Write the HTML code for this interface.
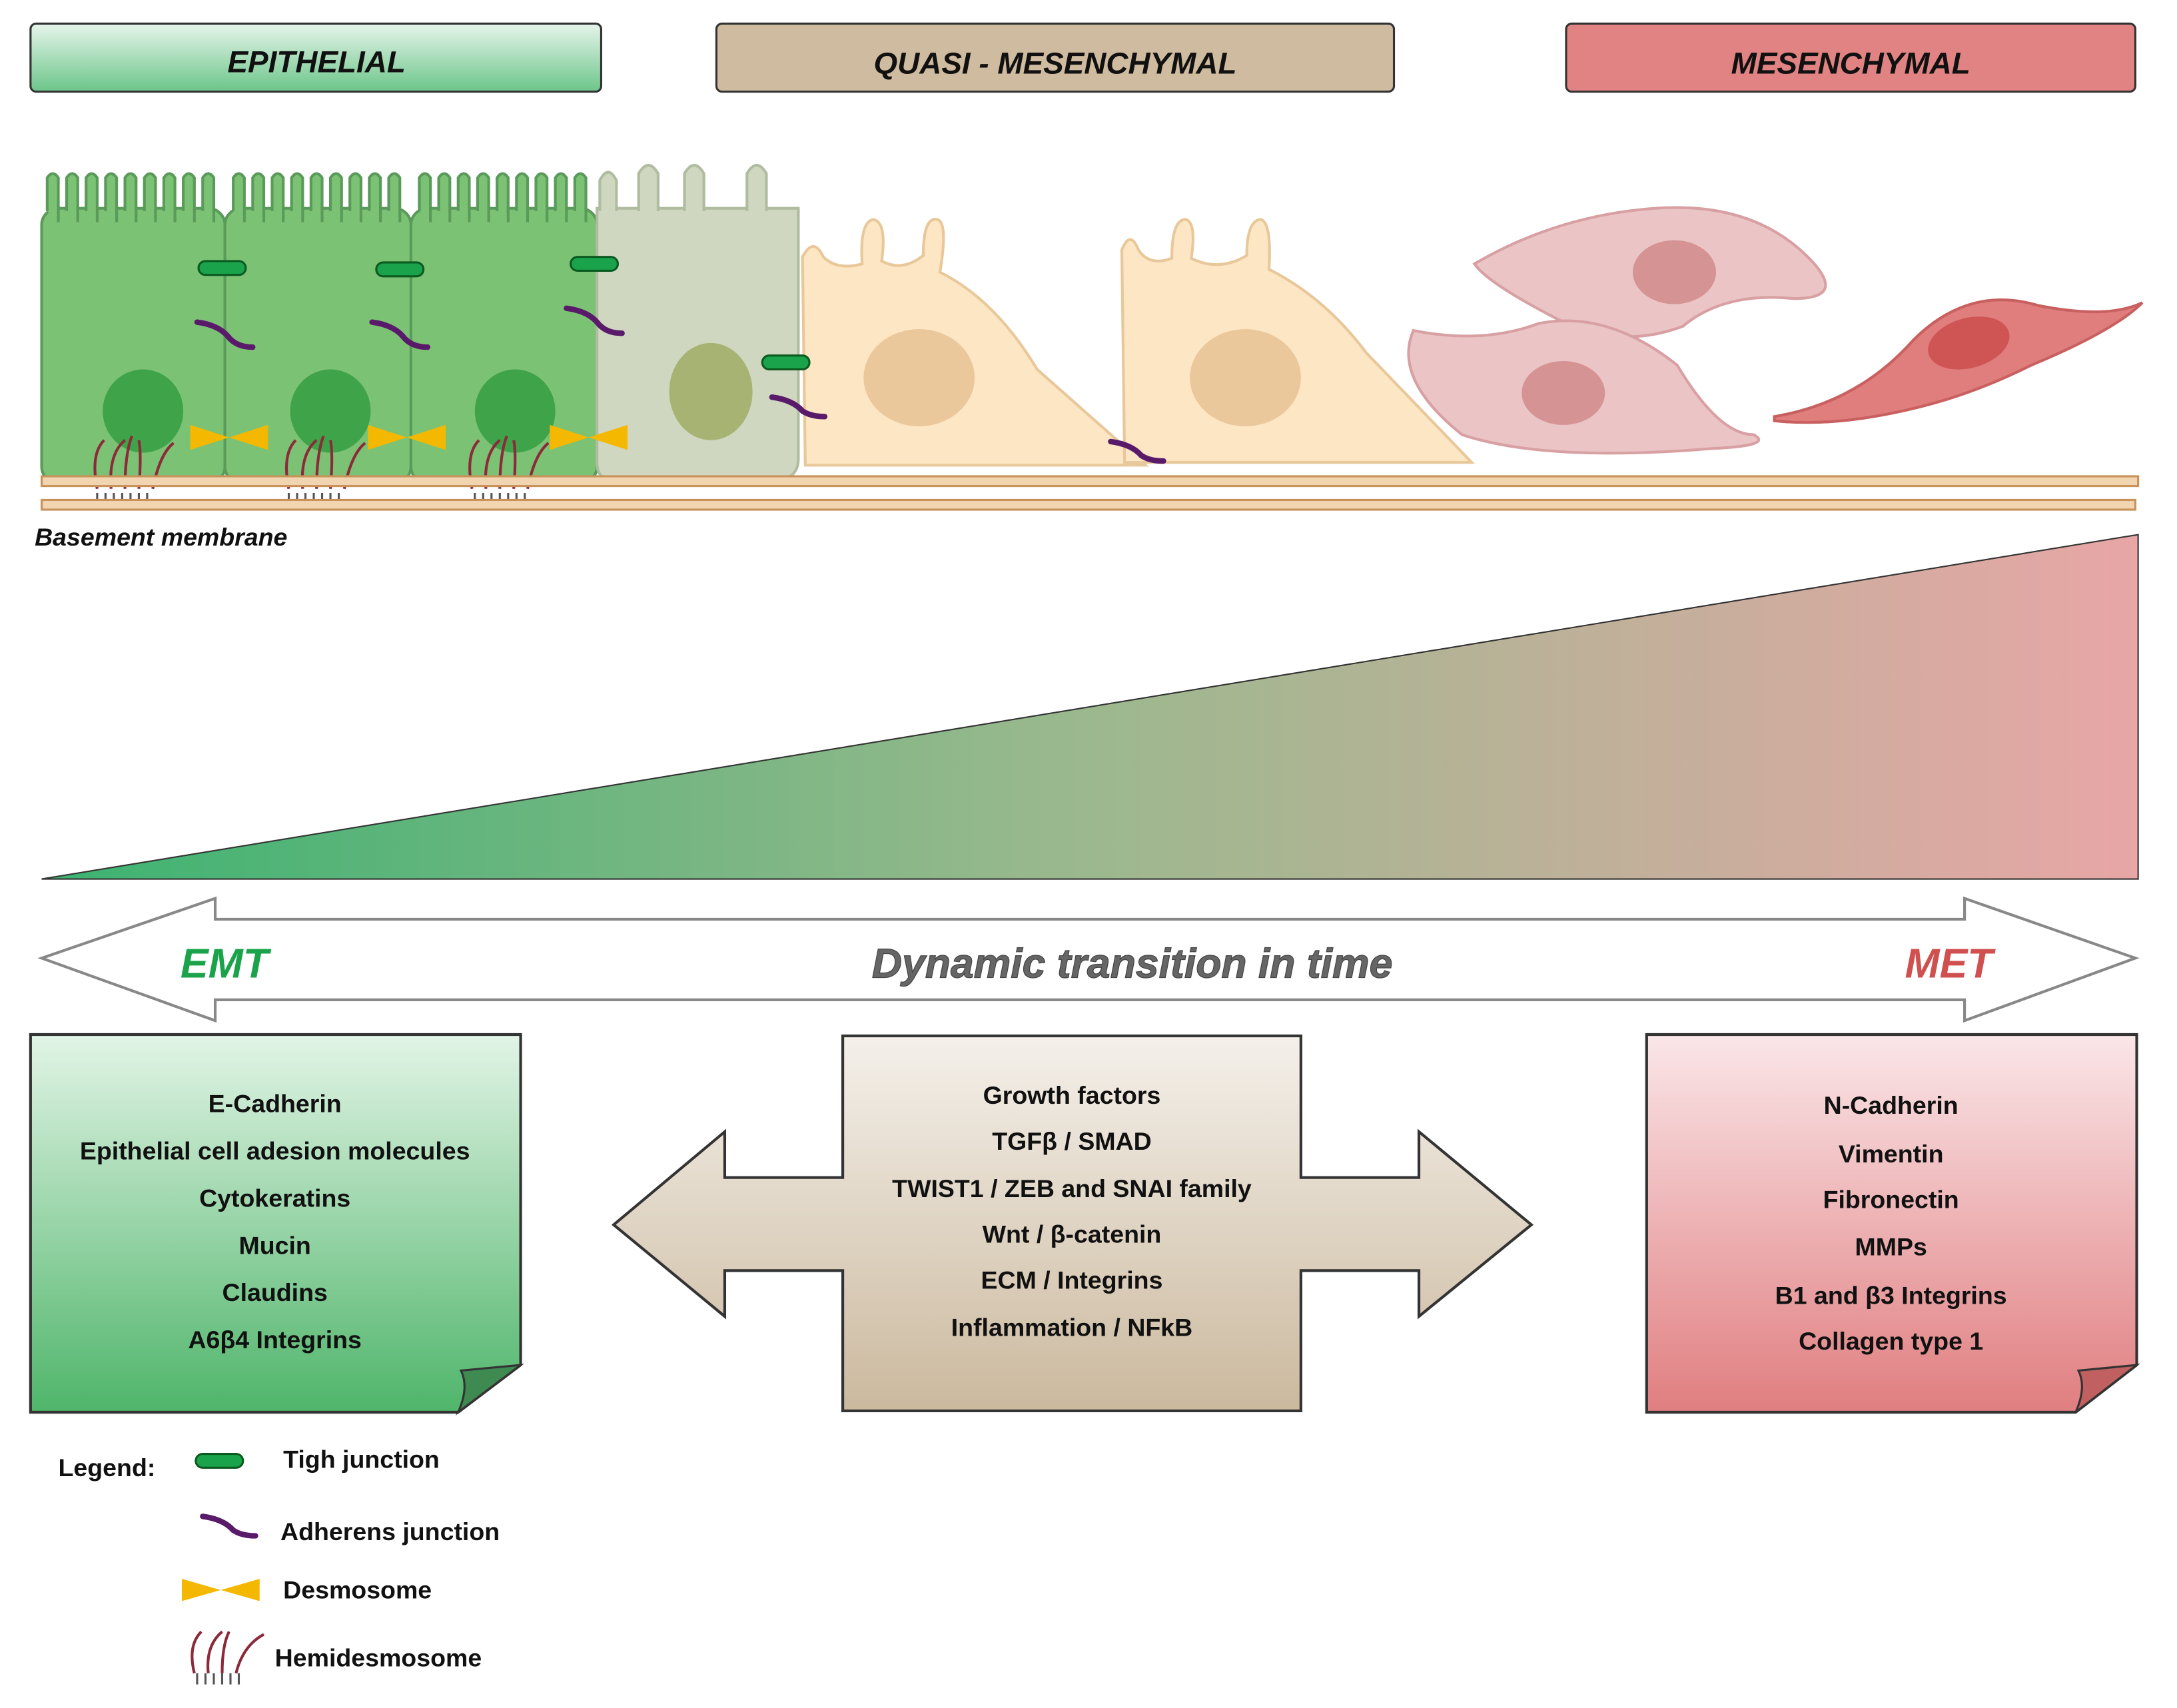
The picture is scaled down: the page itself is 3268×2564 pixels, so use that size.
<!DOCTYPE html>
<html><head><meta charset="utf-8"><style>
html,body{margin:0;padding:0;background:#fff}
svg{display:block}
text{font-family:"Liberation Sans",sans-serif}
</style></head><body>
<svg width="3268" height="2564" viewBox="0 0 1568 1230" preserveAspectRatio="none" xmlns="http://www.w3.org/2000/svg">
<defs>
<linearGradient id="gh" x1="0" y1="0" x2="0" y2="1"><stop offset="0" stop-color="#e6f5ea"/><stop offset="1" stop-color="#6cc58a"/></linearGradient>
<linearGradient id="tri" x1="0" y1="0" x2="1" y2="0"><stop offset="0" stop-color="#3cb371"/><stop offset="0.5" stop-color="#9cb88e"/><stop offset="0.75" stop-color="#c0b09a"/><stop offset="1" stop-color="#e8a6a6"/></linearGradient>
<linearGradient id="lb" x1="0" y1="0" x2="0" y2="1"><stop offset="0" stop-color="#e2f4e6"/><stop offset="1" stop-color="#4fb56a"/></linearGradient>
<linearGradient id="rb" x1="0" y1="0" x2="0" y2="1"><stop offset="0" stop-color="#fae6e8"/><stop offset="1" stop-color="#e07e80"/></linearGradient>
<linearGradient id="cb" x1="0" y1="0" x2="0" y2="1"><stop offset="0" stop-color="#f4f0ea"/><stop offset="1" stop-color="#cbb99e"/></linearGradient>
</defs>
<rect x="22" y="17" width="411" height="49" rx="4" fill="url(#gh)" stroke="#333" stroke-width="1.5"/>
<rect x="516" y="17" width="488" height="49" rx="4" fill="#cfbb9f" stroke="#333" stroke-width="1.5"/>
<rect x="1128" y="17" width="410" height="49" rx="4" fill="#e18383" stroke="#333" stroke-width="1.5"/>
<g font-weight="bold" font-style="italic" font-size="22" text-anchor="middle" fill="#111">
<text x="228" y="52">EPITHELIAL</text><text x="760" y="53">QUASI - MESENCHYMAL</text><text x="1333" y="53">MESENCHYMAL</text></g>
<g stroke="#5a9a5a" stroke-width="2" fill="#7cc274">
<rect x="30" y="150" width="132" height="198" rx="12"/>
<rect x="162" y="150" width="134" height="198" rx="12"/>
<rect x="296" y="150" width="134" height="198" rx="12"/>
</g>
<g stroke="#5a9a5a" stroke-width="2" fill="#7cc274">
<path d="M34 152 V128 q4-6 8 0 V160 M48 152 V128 q4-6 8 0 V160 M62 152 V128 q4-6 8 0 V160 M76 152 V128 q4-6 8 0 V160 M90 152 V128 q4-6 8 0 V160 M104 152 V128 q4-6 8 0 V160 M118 152 V128 q4-6 8 0 V160 M132 152 V128 q4-6 8 0 V160 M146 152 V128 q4-6 8 0 V160"/>
<path d="M168 152 V128 q4-6 8 0 V160 M182 152 V128 q4-6 8 0 V160 M196 152 V128 q4-6 8 0 V160 M210 152 V128 q4-6 8 0 V160 M224 152 V128 q4-6 8 0 V160 M238 152 V128 q4-6 8 0 V160 M252 152 V128 q4-6 8 0 V160 M266 152 V128 q4-6 8 0 V160 M280 152 V128 q4-6 8 0 V160"/>
<path d="M302 152 V128 q4-6 8 0 V160 M316 152 V128 q4-6 8 0 V160 M330 152 V128 q4-6 8 0 V160 M344 152 V128 q4-6 8 0 V160 M358 152 V128 q4-6 8 0 V160 M372 152 V128 q4-6 8 0 V160 M386 152 V128 q4-6 8 0 V160 M400 152 V128 q4-6 8 0 V160 M414 152 V128 q4-6 8 0 V160"/>
</g>
<g fill="#3fa34a"><ellipse cx="103" cy="296" rx="29" ry="30"/><ellipse cx="238" cy="296" rx="29" ry="30"/><ellipse cx="371" cy="296" rx="29" ry="30"/></g>
<path d="M430 150 H575 V330 q0 15-15 15 H440 q-10 0-10-12 Z" fill="#cfd7c0" stroke="#b0bca0" stroke-width="2"/>
<path d="M432 152 V130 q6-12 12 0 V152 M460 152 V125 q7-12 14 0 V152 M493 152 V125 q7-12 14 0 V152 M538 152 V125 q7-12 14 0 V152" fill="#cfd7c0" stroke="#b0bca0" stroke-width="2"/>
<ellipse cx="512" cy="282" rx="30" ry="35" fill="#a7b373"/>
<path d="M580 335 L578 185 q8-15 15 0 q10 10 28 5 q-2-30 8-32 q10 2 6 30 q15 8 30 -4 q0-28 10-26 q8 2 2 38 q40 20 70 70 L825 335 Z" fill="#fde6c4" stroke="#e8c89a" stroke-width="2"/>
<path d="M810 333 L808 180 q6-15 12 0 q8 12 24 6 q0-28 10-28 q8 2 4 28 q20 10 40 -2 q0-25 10-26 q8 2 6 36 q40 20 70 60 L1060 333 Z" fill="#fde6c4" stroke="#e8c89a" stroke-width="2"/>
<ellipse cx="662" cy="272" rx="40" ry="35" fill="#ebc79c"/>
<ellipse cx="897" cy="272" rx="40" ry="35" fill="#ebc79c"/>
<path d="M1062 190 q60-35 130-40 q70-5 110 35 q30 30-10 30 q-50-5-80 20 q-40 15-80 0 q-60-30-70-45 Z" fill="#ebc5c6" stroke="#d8a0a2" stroke-width="2"/>
<path d="M1018 238 q50 10 90-5 q50-10 100 30 q30 50 55 50 q15 8-30 10 q-120 10-180-10 q-50-40-35-75 Z" fill="#ebc5c6" stroke="#d8a0a2" stroke-width="2"/>
<path d="M1278 300 q60-10 100-55 q40-40 90-25 q50 10 75 -2 q-20 20-80 45 q-40 20-80 30 q-60 15-105 10 Z" fill="#e07d7d" stroke="#c86060" stroke-width="2"/>
<ellipse cx="1206" cy="196" rx="30" ry="23" fill="#d59394"/>
<ellipse cx="1126" cy="283" rx="30" ry="23" fill="#d59394"/>
<ellipse cx="1418" cy="247" rx="30" ry="18" fill="#cf5555" transform="rotate(-15 1418 247)"/>
<g fill="#1aa34a" stroke="#0b5a20" stroke-width="1.5"><rect x="143" y="188" width="34" height="10" rx="5"/><rect x="271" y="189" width="34" height="10" rx="5"/><rect x="411" y="185" width="34" height="10" rx="5"/><rect x="549" y="256" width="34" height="10" rx="5"/><rect x="141" y="1047" width="34" height="10" rx="5"/></g>
<g fill="none" stroke="#5a1a6a" stroke-width="4" stroke-linecap="round"><path d="M142 232 q15 2 22 10 q6 8 18 8"/><path d="M268 232 q15 2 22 10 q6 8 18 8"/><path d="M408 222 q15 2 22 10 q6 8 18 8"/><path d="M556 286 q15 2 22 10 q6 4 16 4"/><path d="M800 318 q15 2 22 10 q6 4 16 4"/><path d="M146 1092 q15 2 22 10 q6 4 16 4"/></g>
<g fill="#f5b800"><path d="M137 306 L165 315 L193 306 V324 L165 315 L137 324Z"/><path d="M265 306 L293 315 L321 306 V324 L293 315 L265 324Z"/><path d="M396 306 L424 315 L452 306 V324 L424 315 L396 324Z"/><path d="M131 1137 L159 1145 L187 1137 V1153 L159 1145 L131 1153Z"/></g>
<g fill="none" stroke="#8b2a3a" stroke-width="2">
<path d="M70 352 q-5-25 5-35 M80 352 q-2-25 10-35 M90 352 q0-25 5-38 M100 352 q2-25 0-35 M110 352 q5-25 15-33"/>
<path d="M208 352 q-5-25 5-35 M218 352 q-2-25 10-35 M228 352 q0-25 5-38 M238 352 q2-25 0-35 M248 352 q5-25 15-33"/>
<path d="M340 352 q-5-25 5-35 M350 352 q-2-25 10-35 M360 352 q0-25 5-38 M370 352 q2-25 0-35 M380 352 q5-25 15-33"/>
<path d="M140 1205 q-5-20 5-30 M150 1205 q-2-20 10-30 M160 1205 q0-20 5-30 M170 1205 q5-20 20-28"/>
</g>
<g stroke="#555" stroke-width="1.5"><path d="M70 355 V364 M76 355 V364 M82 355 V364 M88 355 V364 M94 355 V364 M100 355 V364 M106 355 V364 M208 355 V364 M214 355 V364 M220 355 V364 M226 355 V364 M232 355 V364 M238 355 V364 M244 355 V364 M342 355 V364 M348 355 V364 M354 355 V364 M360 355 V364 M366 355 V364 M372 355 V364 M378 355 V364 M142 1205 V1213 M148 1205 V1213 M154 1205 V1213 M160 1205 V1213 M166 1205 V1213 M172 1205 V1213"/></g>
<rect x="30" y="343" width="1510" height="7" fill="#f1d4b0" stroke="#c8925a" stroke-width="1.5"/>
<rect x="30" y="360" width="1508" height="7" fill="#f1d4b0" stroke="#c8925a" stroke-width="1.5"/>
<text x="25" y="393" font-size="18" font-weight="bold" font-style="italic" fill="#111">Basement membrane</text>
<polygon points="30,633 1540,385 1540,633" fill="url(#tri)" stroke="#333" stroke-width="1"/>
<polygon points="30,690 155,647 155,662 1415,662 1415,647 1538,690 1415,735 1415,720 155,720 155,735" fill="#fff" stroke="#888" stroke-width="2"/>
<g font-weight="bold" font-style="italic" font-size="30">
<text x="130" y="704" fill="#1aa34a">EMT</text>
<text x="628" y="704" fill="#666" stroke="#444" stroke-width="0.6">Dynamic transition in time</text>
<text x="1372" y="704" fill="#d05050">MET</text></g>
<path d="M22 745 H375 V983 L330 1017 H22 Z" fill="url(#lb)" stroke="#333" stroke-width="2"/>
<path d="M375 983 L330 1017 q8-18 2-30 Z" fill="#3e8a50" stroke="#333" stroke-width="1.5"/>
<path d="M1186 745 H1539 V983 L1495 1017 H1186 Z" fill="url(#rb)" stroke="#333" stroke-width="2"/>
<path d="M1539 983 L1495 1017 q8-18 2-30 Z" fill="#c06060" stroke="#333" stroke-width="1.5"/>
<polygon points="607,746 937,746 937,848 1022,848 1022,815 1103,882 1022,948 1022,915 937,915 937,1016 607,1016 607,915 522,915 522,948 442,882 522,815 522,848 607,848" fill="url(#cb)" stroke="#333" stroke-width="2"/>
<g font-size="18" font-weight="bold" text-anchor="middle" fill="#111">
<text x="198" y="801">E-Cadherin</text><text x="198" y="835">Epithelial cell adesion molecules</text><text x="198" y="869">Cytokeratins</text><text x="198" y="903">Mucin</text><text x="198" y="937">Claudins</text><text x="198" y="971">A6β4 Integrins</text>
<text x="772" y="795">Growth factors</text><text x="772" y="828">TGFβ / SMAD</text><text x="772" y="862">TWIST1 / ZEB and SNAI family</text><text x="772" y="895">Wnt / β-catenin</text><text x="772" y="928">ECM / Integrins</text><text x="772" y="962">Inflammation / NFkB</text>
<text x="1362" y="802">N-Cadherin</text><text x="1362" y="837">Vimentin</text><text x="1362" y="870">Fibronectin</text><text x="1362" y="904">MMPs</text><text x="1362" y="939">B1 and β3 Integrins</text><text x="1362" y="972">Collagen type 1</text>
</g>
<g font-size="18" font-weight="bold" fill="#111">
<text x="42" y="1063">Legend:</text><text x="204" y="1057">Tigh junction</text><text x="202" y="1109">Adherens junction</text><text x="204" y="1151">Desmosome</text><text x="198" y="1200">Hemidesmosome</text></g>
</svg>
</body></html>
